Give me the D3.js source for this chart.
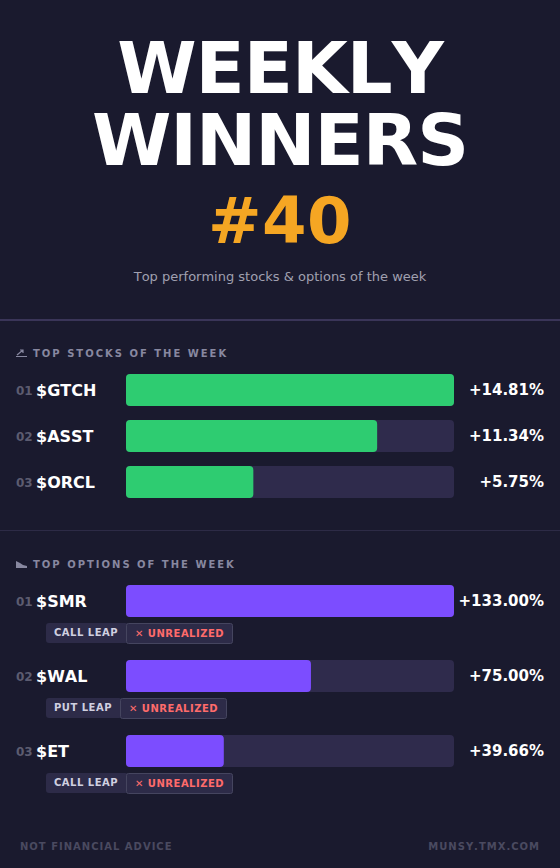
<!DOCTYPE html>
<html><head><meta charset="utf-8">
<script src="https://cdn.jsdelivr.net/npm/d3@7"></script>
<style>html,body{margin:0;padding:0;background:#1a1a2e;}svg{display:block;font-family:"DejaVu Sans",sans-serif;font-kerning:none;}</style>
</head><body><div id="chart"></div>
<script>
const stockRanks = ["01","02","03"];
const stockTickers = ["$GTCH","$ASST","$ORCL"];
const stockValues = [14.81,11.34,5.75];
const stockLabels = ["+14.81%","+11.34%","+5.75%"];
const optionRanks = ["01","02","03"];
const optionTickers = ["$SMR","$WAL","$ET"];
const optionValues = [133.00,75.00,39.66];
const optionLabels = ["+133.00%","+75.00%","+39.66%"];
const optionTypes = ["CALL LEAP","PUT LEAP","CALL LEAP"];
const optionStatus = ["✕ UNREALIZED","✕ UNREALIZED","✕ UNREALIZED"];

const W=560,H=868;
const svg=d3.select("#chart").append("svg").attr("width",W).attr("height",H);
svg.append("rect").attr("width",W).attr("height",H).attr("fill","#1a1a2e");
function txt(x,y,s,size,fill,o={}){
  return svg.append("text").attr("x",x).attr("y",y).text(s)
   .attr("font-size",size).attr("fill",fill).attr("font-weight",o.w||"400")
   .attr("text-anchor",o.a||"start").attr("letter-spacing",o.ls||0);
}
txt(280,93,"WEEKLY",72,"#ffffff",{w:"700",a:"middle",ls:-1});
txt(280,165,"WINNERS",72,"#ffffff",{w:"700",a:"middle",ls:-1});
txt(280,243,"#40",64,"#f5a623",{w:"700",a:"middle",ls:0.5});
txt(280,281,"Top performing stocks & options of the week",13,"#a0a0b0",{a:"middle"});
const line=(y,c)=>svg.append("rect").attr("x",0).attr("y",y).attr("width",W).attr("height",1).attr("fill",c);
line(319,"#3a3558");line(320,"#3a3558");line(530,"#2d2b46");

const x1=d3.scaleLinear().domain([0,d3.max(stockValues)]).range([0,328]);
const x2=d3.scaleLinear().domain([0,d3.max(optionValues)]).range([0,328]);
const y1=d3.scalePoint().domain(stockTickers).range([390,482]);
const y2=d3.scalePoint().domain(optionTickers).range([601,751]);

svg.append("path").attr("d","M16 356.5H27M17 355L23 350M23 353V350H20").attr("fill","none").attr("stroke","#8888a0").attr("stroke-width",1.2);
txt(33,357,"TOP STOCKS OF THE WEEK",10,"#8888a0",{w:"700",ls:2});
svg.append("path").attr("d","M16 568V561L20 563L23 565L27 566V568Z").attr("fill","#8888a0");
txt(33,568,"TOP OPTIONS OF THE WEEK",10,"#8888a0",{w:"700",ls:2});

function row(t,i,y,x,vals,ranks,labels,col){
  const c=y(t);
  txt(16,c+5,ranks[i],12,"#5c5c70",{w:"700"});
  txt(36,c+6,t,16,"#ffffff",{w:"700"});
  svg.append("rect").attr("x",126).attr("y",c-16).attr("width",328).attr("height",32).attr("rx",4).attr("fill","#2f2b4c");
  svg.append("rect").attr("x",126).attr("y",c-16).attr("width",x(vals[i])).attr("height",32).attr("rx",4).attr("fill",col);
  txt(544,c+5,labels[i],15,"#ffffff",{w:"700",a:"end"});
}
stockTickers.forEach((t,i)=>row(t,i,y1,x1,stockValues,stockRanks,stockLabels,"#2ecc71"));
optionTickers.forEach((t,i)=>{
  row(t,i,y2,x2,optionValues,optionRanks,optionLabels,"#7c4dff");
  const c=y2(t);
  const bw=optionTypes[i]==="PUT LEAP"?74:80;
  svg.append("rect").attr("x",46).attr("y",c+22).attr("width",bw+2).attr("height",20).attr("rx",3).attr("fill","#2d2b48");
  txt(54,c+35,optionTypes[i],10,"#d0d0e0",{w:"700",ls:0.5});
  svg.append("rect").attr("x",46+bw+.5).attr("y",c+22.5).attr("width",106).attr("height",20).attr("rx",2).attr("fill","#2d2b48").attr("stroke","#45455f");
  txt(46+bw+9,c+36,optionStatus[i],10,"#ff6b6b",{w:"700",ls:0.5});
});
txt(20,850,"NOT FINANCIAL ADVICE",10,"#4a4a60",{w:"700",ls:1});
txt(540,850,"MUNSY.TMX.COM",10,"#4a4a60",{w:"700",ls:1,a:"end"});
</script></body></html>
